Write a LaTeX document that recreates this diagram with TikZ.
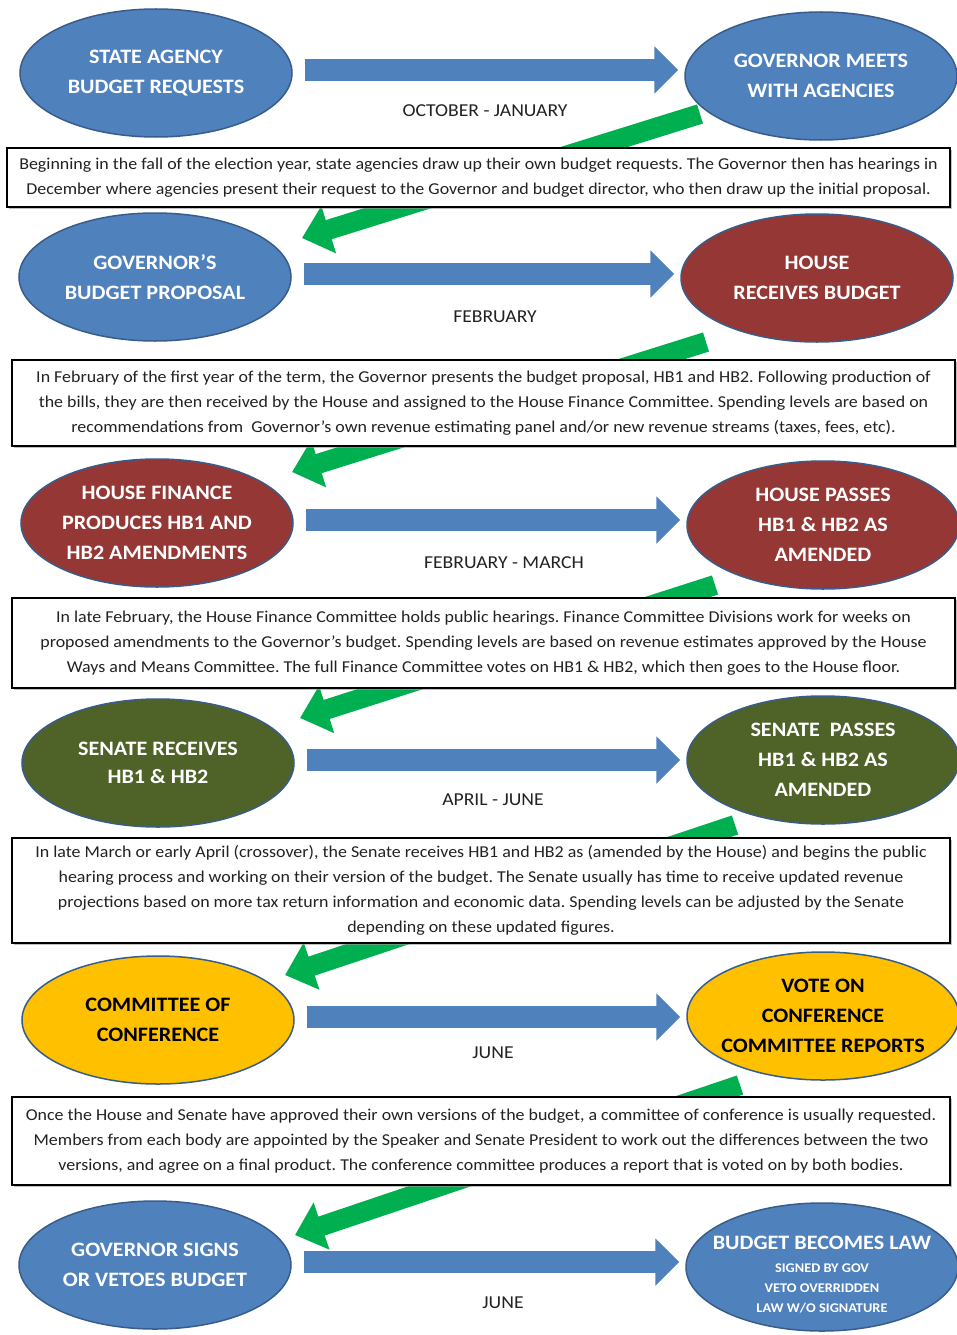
\documentclass[tikz,border=0pt]{standalone}
\usepackage{fontspec}
\setmainfont{Carlito}[FakeStretch=1.08]
\usetikzlibrary{arrows.meta,calc,shapes.geometric,shadows}
\definecolor{govblue}{HTML}{4F81BD}
\definecolor{govedge}{HTML}{385D8A}
\definecolor{housered}{HTML}{953735}
\definecolor{senolive}{HTML}{4F6228}
\definecolor{confgold}{HTML}{FFC000}
\definecolor{stepgreen}{HTML}{00B050}
\definecolor{ink}{HTML}{222222}
\tikzset{
  stage/.style={ellipse, draw=govedge, line width=1.5pt, inner sep=0pt,
    minimum width=272pt, minimum height=128pt},
  caption/.style={text=white, align=center, font=\bfseries\fontsize{20.5}{30}\selectfont},
  month/.style={text=ink, font=\fontsize{18.2}{22}\selectfont},
  note/.style={draw=black, line width=1.5pt, fill=white, text=ink, align=center,
    minimum width=943pt, font=\fontsize{16.6}{25}\selectfont\frenchspacing,
    drop shadow={shadow xshift=2pt, shadow yshift=-2pt, fill=black!40, opacity=.6}},
  flow/.style={draw=govblue, line width=22pt, -{Triangle[length=24pt,width=46pt]}},
  back/.style={draw=stepgreen, line width=20pt, -{Triangle[length=28pt,width=48pt]}},
}
\begin{document}
\begin{tikzpicture}[x=1pt,y=-1pt]
  \fill[white] (0,0) rectangle (957,1335);
  \useasboundingbox (0,0) rectangle (957,1335);
  % stages, left and right of each step
  \foreach \n/\c/\x/\y in {sa/govblue/156/73, gm/govblue/821/76,
      gp/govblue/155/277, hr/housered/817/278,
      hf/housered/157/523, hp/housered/823/525,
      sr/senolive/158/763, sp/senolive/823/760,
      cc/confgold/158/1020, vc/confgold/823/1016,
      gs/govblue/155/1265, bl/govblue/822/1267}
    \node[stage, fill=\c] (\n) at (\x,\y) {};
  \node[caption] (sa-t) at (sa) {STATE AGENCY\\BUDGET REQUESTS};
  \node[caption] (gm-t) at (gm) {GOVERNOR MEETS\\WITH AGENCIES};
  \node[caption] (gp-t) at (gp) {GOVERNOR’S\\BUDGET PROPOSAL};
  \node[caption] (hr-t) at (hr) {HOUSE\\RECEIVES BUDGET};
  \node[caption] (hf-t) at (hf) {HOUSE FINANCE\\PRODUCES HB1 AND\\HB2 AMENDMENTS};
  \node[caption] (hp-t) at (hp) {HOUSE PASSES\\HB1 \& HB2 AS\\AMENDED};
  \node[caption, font=\bfseries\fontsize{20.5}{28}\selectfont] (sr-t) at (sr) {SENATE RECEIVES\\HB1 \& HB2};
  \node[caption] (sp-t) at (sp) {SENATE~ PASSES\\HB1 \& HB2 AS\\AMENDED};
  \node[caption, text=black] (cc-t) at (cc) {COMMITTEE OF\\CONFERENCE};
  \node[caption, text=black] (vc-t) at (vc) {VOTE ON\\CONFERENCE\\COMMITTEE REPORTS};
  \node[caption] (gs-t) at (gs) {GOVERNOR SIGNS\\OR VETOES BUDGET};
  \node[caption] (bl-t) at ($(bl)+(0,-24)$) {BUDGET BECOMES LAW};
  \node[caption, font=\bfseries\fontsize{13.3}{20}\selectfont] (bl-s) at ($(bl)+(0,21)$)
    {SIGNED BY GOV\\VETO OVERRIDDEN\\LAW W/O SIGNATURE};
  % time flow
  \foreach \a/\b in {sa/gm, gp/hr, hf/hp, sr/sp, cc/vc, gs/bl}
    \draw[flow] ($(\a.east)+(12,-3)$) -- ($(\a.east -| \b.west)+(-6,-3)$);
  \foreach \t/\x/\y [count=\i] in {OCTOBER - JANUARY/485/111, FEBRUARY/495/317,
      FEBRUARY - MARCH/504/563, APRIL - JUNE/493/800, JUNE/493/1053, JUNE/503/1303}
    \node[month] (month\i) at (\x,\y) {\t};
  % back to the next step
  \foreach \a/\b/\ax/\ay/\bx/\by in {gm/gp/-121/38/147/-39, hr/hf/-111/64/135/-51,
      hp/sr/-108/60/142/-45, sp/cc/-88/65/127/-45, vc/gs/-83/69/140/-30}
    \draw[back] ($(\a)+(\ax,\ay)$) -- ($(\b)+(\bx,\by)$);
  % notes
  \node[note, minimum height=59pt] (n1) at (478.5,177.5)
    {Beginning in the fall of the election year, state agencies draw up their own budget requests. The Governor then has hearings in\\
     December where agencies present their request to the Governor and budget director, who then draw up the initial proposal.};
  \node[note, minimum height=86pt] (n2) at (483.5,403)
    {In February of the first year of the term, the Governor presents the budget proposal, HB1 and HB2. Following production of\\
     the bills, they are then received by the House and assigned to the House Finance Committee. Spending levels are based on\\
     recommendations from~ Governor’s own revenue estimating panel and/or new revenue streams (taxes, fees, etc).};
  \node[note, minimum height=90pt] (n3) at (483.5,643)
    {In late February, the House Finance Committee holds public hearings. Finance Committee Divisions work for weeks on\\
     proposed amendments to the Governor’s budget. Spending levels are based on revenue estimates approved by the House\\
     Ways and Means Committee. The full Finance Committee votes on HB1 \& HB2, which then goes to the House floor.};
  \node[note, minimum width=938pt, minimum height=105pt] (n4) at (481,890.5)
    {In late March or early April (crossover), the Senate receives HB1 and HB2 as (amended by the House) and begins the public\\
     hearing process and working on their version of the budget. The Senate usually has time to receive updated revenue\\
     projections based on more tax return information and economic data. Spending levels can be adjusted by the Senate\\
     depending on these updated figures.};
  \node[note, minimum width=938pt, minimum height=88pt] (n5) at (481,1141)
    {Once the House and Senate have approved their own versions of the budget, a committee of conference is usually requested.\\
     Members from each body are appointed by the Speaker and Senate President to work out the differences between the two\\
     versions, and agree on a final product. The conference committee produces a report that is voted on by both bodies.};
\end{tikzpicture}
\end{document}
